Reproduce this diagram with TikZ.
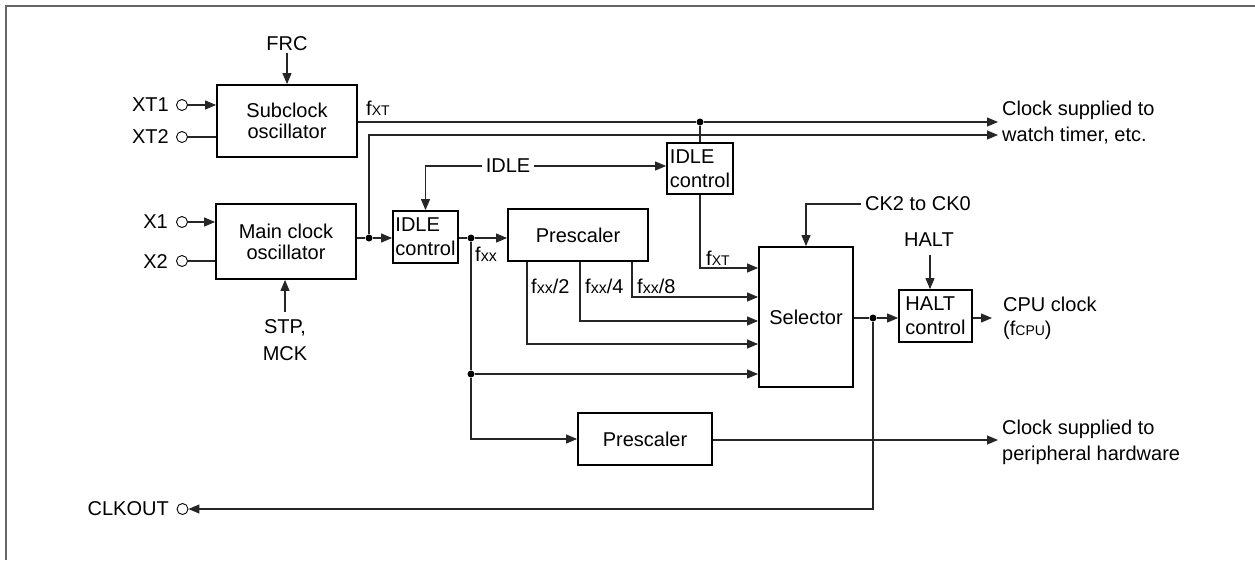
\documentclass[tikz,border=0pt]{standalone}
\usepackage{fontspec}
\setmainfont{Liberation Sans}
\usetikzlibrary{arrows.meta}
\newcommand\smtxt[1]{{\fontsize{14}{14}\selectfont #1}}
\newcommand\smx[1]{{\fontsize{16}{16}\selectfont #1}}
\begin{document}
\begin{tikzpicture}[x=1pt,y=-1pt,
  blk/.style={draw=black, line width=1.8pt, inner sep=0pt, align=center, font=\fontsize{20}{21}\selectfont},
  ctl/.style={align=left, font=\fontsize{20}{24}\selectfont},
  conn/.style={line width=1.1pt, draw=black!85},
  arr/.style={conn, -{Triangle[length=11pt,width=9pt]}},
  lbl/.style={inner sep=0pt, font=\fontsize{20}{24}\selectfont},
  llbl/.style={inner sep=4pt, font=\fontsize{20}{24}\selectfont},
  dot/.style={circle, fill=black, inner sep=0pt, minimum size=7pt},
  term/.style={circle, draw=black, line width=0.9pt, inner sep=0pt, minimum size=11pt, fill=white},
  frame/.style={draw=black!60, line width=2pt}
]
\useasboundingbox (0,0) rectangle (1255,560);
\draw[frame] (6,560) -- (6,5.5) -- (1255,5.5);

% blocks
\node[blk, minimum width=140pt, minimum height=72pt] (sub) at (287,121) {Subclock\\oscillator};
\node[blk, minimum width=140pt, minimum height=75pt] (main) at (286,241.5) {Main clock\\oscillator};
\node[blk, ctl, minimum width=65pt, minimum height=52pt] (idle1) at (425.5,237) {IDLE\\control};
\node[blk, minimum width=140pt, minimum height=52pt] (pre1) at (578,235) {Prescaler};
\node[blk, ctl, minimum width=66pt, minimum height=51pt] (idle2) at (700,168.5) {IDLE\\control};
\node[blk, minimum width=94pt, minimum height=140pt] (sel) at (806,317) {Selector};
\node[blk, ctl, minimum width=73pt, minimum height=52pt] (halt) at (935.5,316) {HALT\\control};
\node[blk, minimum width=134pt, minimum height=52pt] (pre2) at (645,439) {Prescaler};

% terminals
\node[term] (xt1) at (182,105) {};
\node[term] (xt2) at (182,137) {};
\node[term] (x1) at (182,222) {};
\node[term] (x2) at (182,261) {};
\node[term] (clk) at (182.5,509) {};
\node[lbl, anchor=east] (xt1l) at (169,105) {XT1};
\node[lbl, anchor=east] (xt2l) at (169,137) {XT2};
\node[lbl, anchor=east] (x1l) at (168,222) {X1};
\node[lbl, anchor=east] (x2l) at (168,262) {X2};
\node[lbl, anchor=east] (clkl) at (169,509) {CLKOUT};

\draw[arr] (xt1) -- (sub.west |- xt1);
\draw[conn] (xt2) -- (sub.west |- xt2);
\draw[arr] (x1) -- (main.west |- x1);
\draw[conn] (x2) -- (main.west |- x2);

% FRC, STP/MCK
\node[lbl, anchor=base] (frc) at (287,50) {FRC};
\draw[arr] (287,53) coordinate (frcs) -- (sub.north);
\node[lbl, anchor=base] (stp) at (285,333) {STP,};
\node[lbl, anchor=base] (mck) at (285,360) {MCK};
\coordinate (stpn) at (285,312);
\draw[arr] (stpn) -- (main.south -| stpn);

% fXT lines
\coordinate (wt1) at (998,122);
\coordinate (wt2) at (998,135);
\node[dot] (d1) at (700,122) {};
\draw[conn] (sub.east |- d1) -- (d1);
\draw[arr] (d1) -- (wt1);
\draw[conn] (d1) -- (idle2.north);
\node[lbl, anchor=base west] (fxt1) at (366,115) {f\smtxt{XT}};

\node[dot] (d2) at (369,238) {};
\draw[conn] (main.east |- d2) -- (d2);
\draw[arr] (d2) -- (idle1.west |- d2);
\draw[arr] (d2) |- (wt2);

% IDLE
\node[llbl] (idle) at (508,166) {IDLE};
\draw[arr] (idle.east) -- (idle2.west |- idle);
\draw[arr] (idle.west) -| (idle1.north);

% fxx
\node[dot] (d3) at (471,238) {};
\draw[conn] (idle1.east |- d3) -- (d3);
\draw[arr] (d3) -- (pre1.west |- d3);
\node[lbl, anchor=base west] (fxxl) at (475,261) {f\smx{xx}};
\node[dot] (d4) at (471,374) {};
\draw[conn] (d3) -- (d4);
\draw[arr] (d4) -- (sel.west |- d4);
\draw[arr] (d4) |- (pre2.west);

% prescaler outputs
\coordinate (c2) at (527,344);
\coordinate (c4) at (580,321);
\coordinate (c8) at (632,297);
\coordinate (c0) at (700,268);
\draw[arr] (pre1.south -| c2) |- (sel.west |- c2);
\draw[arr] (pre1.south -| c4) |- (sel.west |- c4);
\draw[arr] (pre1.south -| c8) |- (sel.west |- c8);
\draw[arr] (idle2.south) |- (sel.west |- c0);
\node[lbl, anchor=base west] (f2) at (531,293) {f\smx{xx}/2};
\node[lbl, anchor=base west] (f4) at (585,293) {f\smx{xx}/4};
\node[lbl, anchor=base west] (f8) at (637,293) {f\smx{xx}/8};
\node[lbl, anchor=base west] (fxt2) at (706,265) {f\smtxt{XT}};

% CK2 to CK0
\node[llbl, anchor=west] (ck) at (861,204) {CK2 to CK0};
\draw[arr] (ck.west) -| (sel.north);

% HALT
\node[lbl] (haltl) at (929,240) {HALT};
\coordinate (hs) at (930,255);
\draw[arr] (hs) -- (halt.north -| hs);

% selector output
\node[dot] (d5) at (873,318) {};
\draw[conn] (sel.east |- d5) -- (d5);
\draw[arr] (d5) -- (halt.west |- d5);
\draw[arr] (d5) |- (clk.east);
\coordinate (cpuc) at (992,318);
\draw[arr] (halt.east |- d5) -- (cpuc);
\node[lbl, anchor=base west] (cpu1) at (1003,311) {CPU clock};
\node[lbl, anchor=base west] (cpu2) at (1003,335) {(f\smtxt{CPU})};

% peripheral
\coordinate (phc) at (998,440);
\draw[arr] (pre2.east |- phc) -- (phc);
\node[lbl, anchor=base west] (ph1) at (1002,434) {Clock supplied to};
\node[lbl, anchor=base west] (ph2) at (1002,460) {peripheral hardware};

% watch timer
\node[lbl, anchor=base west] (wtl1) at (1002,115) {Clock supplied to};
\node[lbl, anchor=base west] (wtl2) at (1002,141) {watch timer, etc.};
\end{tikzpicture}
\end{document}
